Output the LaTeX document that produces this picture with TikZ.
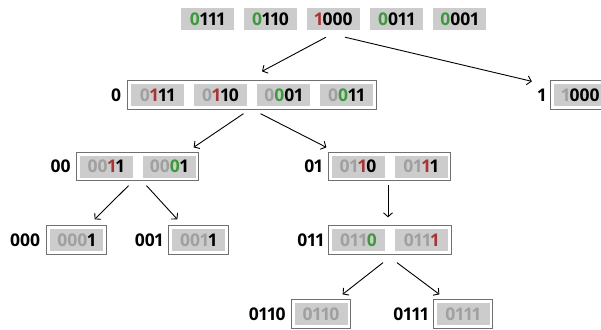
\documentclass[tikz,border=0pt]{standalone}
\usepackage{fontspec}
\setmainfont{Open Sans}[Numbers=Proportional]
\usetikzlibrary{arrows.meta,fit,backgrounds}
\definecolor{cgray}{HTML}{A0A0A0}
\definecolor{cred}{HTML}{A83535}
\definecolor{cgreen}{HTML}{3E993E}
\definecolor{bitfill}{HTML}{CCCCCC}
\definecolor{grpline}{HTML}{707070}
\newcommand\bitG[1]{\textcolor{cgray}{#1}}
\newcommand\bitR[1]{\textcolor{cred}{#1}}
\newcommand\bitN[1]{\textcolor{cgreen}{#1}}
\tikzset{
  bitbox/.style={fill=bitfill, minimum width=53pt, minimum height=22pt, inner sep=0pt,
    font=\bfseries\fontsize{17.5}{19}\selectfont},
  grp/.style={draw=grpline, line width=0.9pt, inner sep=3pt},
  lbl/.style={anchor=east, inner sep=0pt, font=\bfseries\fontsize{17.5}{19}\selectfont},
  arr/.style={-{Straight Barb[length=4pt,width=9pt]}, line width=0.9pt, black},
}
\begin{document}
\begin{tikzpicture}[x=1pt,y=-1pt]
\useasboundingbox (0,0) rectangle (601,329);
% top row
\node[bitbox] (t1) at (207.5,19.5) {\bitN{0}111};
\node[bitbox] (t2) at (270.5,19.5) {\bitN{0}110};
\node[bitbox] (t3) at (333.5,19.5) {\bitR{1}000};
\node[bitbox] (t4) at (396.5,19.5) {\bitN{0}011};
\node[bitbox] (t5) at (459.5,19.5) {\bitN{0}001};
% row 2 : 0
\node[bitbox] (a1) at (157.5,95) {\bitG{0}\bitR{1}11};
\node[bitbox] (a2) at (220.5,95) {\bitG{0}\bitR{1}10};
\node[bitbox] (a3) at (283.5,95) {\bitG{0}\bitN{0}01};
\node[bitbox] (a4) at (346.5,95) {\bitG{0}\bitN{0}11};
% row 2 : 1
\node[bitbox] (b1) at (580.5,95) {\bitG{1}000};
% row 3 : 00
\node[bitbox] (c1) at (106,166.5) {\bitG{00}\bitR{1}1};
\node[bitbox] (c2) at (169,166.5) {\bitG{00}\bitN{0}1};
% row 3 : 01
\node[bitbox] (d1) at (358,166.5) {\bitG{01}\bitR{1}0};
\node[bitbox] (d2) at (421,166.5) {\bitG{01}\bitR{1}1};
% row 4
\node[bitbox] (e1) at (76.5,240) {\bitG{000}1};
\node[bitbox] (f1) at (198.5,240) {\bitG{001}1};
\node[bitbox] (h1) at (358.5,240) {\bitG{011}\bitN{0}};
\node[bitbox] (h2) at (421.5,240) {\bitG{011}\bitR{1}};
% row 5
\node[bitbox] (i1) at (321,314) {\bitG{0110}};
\node[bitbox] (j1) at (463,314) {\bitG{0111}};
% groups
\begin{scope}[on background layer]
\node[grp, fit=(a1)(a4)] (g0) {};
\node[grp, fit=(b1)] (g1) {};
\node[grp, fit=(c1)(c2)] (g00) {};
\node[grp, fit=(d1)(d2)] (g01) {};
\node[grp, fit=(e1)] (g000) {};
\node[grp, fit=(f1)] (g001) {};
\node[grp, fit=(h1)(h2)] (g011) {};
\node[grp, fit=(i1)] (g0110) {};
\node[grp, fit=(j1)] (g0111) {};
\end{scope}
% labels
\node[lbl] (l0) at ([xshift=-6pt]g0.west) {0};
\node[lbl] (l1) at ([xshift=-4pt]g1.west) {1};
\node[lbl] (l00) at ([xshift=-5pt]g00.west) {00};
\node[lbl] (l01) at ([xshift=-5pt]g01.west) {01};
\node[lbl] (l000) at ([xshift=-6pt]g000.west) {000};
\node[lbl] (l001) at ([xshift=-5pt]g001.west) {001};
\node[lbl] (l011) at ([xshift=-4pt]g011.west) {011};
\node[lbl] (l0110) at ([xshift=-5pt]g0110.west) {0110};
\node[lbl] (l0111) at ([xshift=-4pt]g0111.west) {0111};
% arrows
\draw[arr] ([xshift=-7.5pt,yshift=-6.5pt]t3.south) -- ([xshift=10pt,yshift=9pt]g0.north);
\draw[arr] ([xshift=11.5pt,yshift=-6.5pt]t3.south) -- ([xshift=-18.5pt,yshift=-1pt]g1.north west);
\draw[arr] ([xshift=-8.5pt,yshift=-4pt]g0.south) -- ([xshift=-5.5pt,yshift=4.5pt]g00.north east);
\draw[arr] ([xshift=8.5pt,yshift=-4pt]g0.south) -- ([xshift=-1.5pt,yshift=4.5pt]g01.north west);
\draw[arr] ([xshift=-9pt,yshift=-4.5pt]g00.south) -- ([xshift=-12pt,yshift=6pt]g000.north east);
\draw[arr] ([xshift=9pt,yshift=-4.5pt]g00.south) -- ([xshift=9pt,yshift=6pt]g001.north west);
\draw[arr] ([xshift=-1.5pt,yshift=-4pt]g01.south) -- ([xshift=-2pt,yshift=8pt]g011.north);
\draw[arr] ([xshift=-7pt,yshift=-8pt]g011.south) -- ([xshift=-8.5pt,yshift=5pt]g0110.north east);
\draw[arr] ([xshift=7pt,yshift=-8pt]g011.south) -- ([xshift=6.5pt,yshift=5pt]g0111.north west);
\end{tikzpicture}
\end{document}
